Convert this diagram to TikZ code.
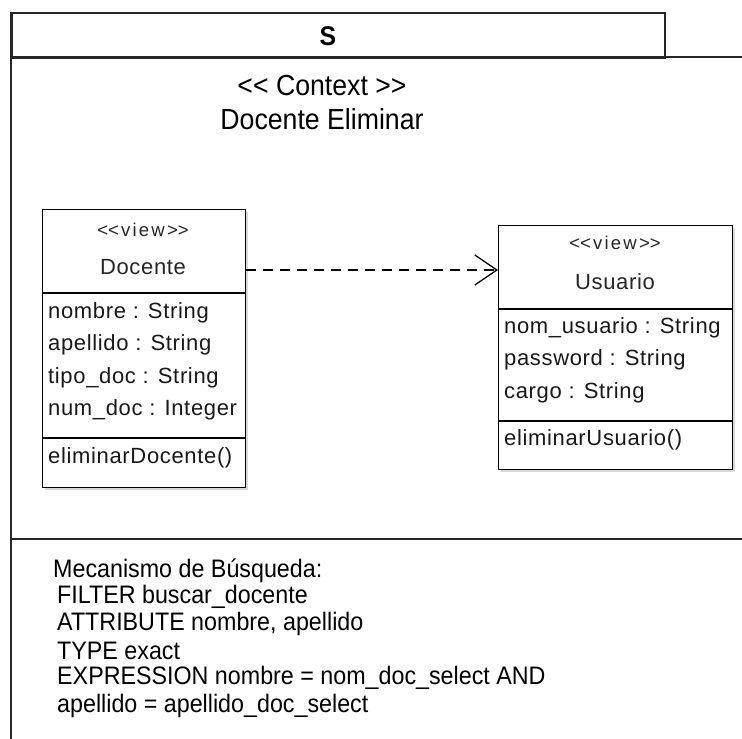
\documentclass[tikz,border=0pt]{standalone}
\usepackage{fontspec}
\setmainfont{Liberation Sans}
\newfontfamily\viewfont[LetterSpace=12]{Liberation Sans}
\newfontfamily\memberfont[LetterSpace=3]{Liberation Sans}
\newfontfamily\tallfont[FakeStretch=0.92]{Liberation Sans}
\usetikzlibrary{arrows.meta,shadows}

\tikzset{
  frameline/.style={draw=black!85, line width=1.6pt},
  clsbox/.style={draw=black, line width=1.3pt, fill=white, inner sep=0pt,
    anchor=north west,
    drop shadow={shadow xshift=2.5pt, shadow yshift=-2.5pt, opacity=0.3}},
  sepline/.style={draw=black, line width=1.3pt},
  stereo/.style={inner sep=0pt, font=\viewfont\fontsize{18.5}{21}\selectfont, text=black!85},
  clsname/.style={inner sep=0pt, font=\memberfont\fontsize{22}{26}\selectfont, text=black!85},
  member/.style={inner sep=0pt, anchor=west, font=\memberfont\fontsize{22}{26}\selectfont, text=black!90},
  ctxtext/.style={inner sep=0pt, font=\tallfont\fontsize{29}{32}\selectfont},
  mechtext/.style={inner sep=0pt, anchor=west, font=\tallfont\fontsize{25.3}{28}\selectfont},
  dep/.style={draw=black, line width=1.3pt, dash pattern=on 10pt off 7pt,
    -{Straight Barb[length=22pt, width=30pt, line width=1.3pt]}}
}

\begin{document}
\begin{tikzpicture}[x=1pt, y=-1pt]
  \useasboundingbox (0,0) rectangle (742,739);

  % package frame
  \node[frameline, draw, minimum width=653pt, minimum height=45pt, inner sep=0pt,
        anchor=north west] (titlebox) at (11,12) {};
  \node[inner sep=0pt, font=\tallfont\bfseries\fontsize{27}{30}\selectfont] (stitle) at (328,36) {S};
  \draw[frameline] (11,12) -- (11,739);
  \draw[frameline] (11,57) -- (742,57);
  \draw[frameline] (11,539) -- (742,539);

  % context heading
  \node[ctxtext] (ctx1) at (322,86) {<\kern0pt< Context >\kern0pt>};
  \node[ctxtext] (ctx2) at (322,119) {Docente Eliminar};

  % class Docente
  \node[clsbox, minimum width=203pt, minimum height=278pt] (doc) at (42,209) {};
  \draw[sepline] (doc.west |- 0,293) -- (doc.east |- 0,293);
  \draw[sepline] (doc.west |- 0,438) -- (doc.east |- 0,438);
  \node[stereo] (docst) at (143,230) {<\kern0pt<view>\kern0pt>};
  \node[clsname] (docname) at (143,267) {Docente};
  \node[member] (doca1) at (48,313) {nombre : String};
  \node[member] (doca2) at (48,345) {apellido : String};
  \node[member] (doca3) at (48,378) {tipo\_doc : String};
  \node[member] (doca4) at (48,410) {num\_doc : Integer};
  \node[member] (docm1) at (48,458) {eliminarDocente()};

  % class Usuario
  \node[clsbox, minimum width=234pt, minimum height=244pt] (usr) at (498,225) {};
  \draw[sepline] (usr.west |- 0,309) -- (usr.east |- 0,309);
  \draw[sepline] (usr.west |- 0,421) -- (usr.east |- 0,421);
  \node[stereo] (usrst) at (615,243) {<\kern0pt<view>\kern0pt>};
  \node[clsname] (usrname) at (615,282) {Usuario};
  \node[member] (usra1) at (504,328) {nom\_usuario : String};
  \node[member] (usra2) at (504,360) {password : String};
  \node[member] (usra3) at (504,393) {cargo : String};
  \node[member] (usrm1) at (504,440) {eliminarUsuario()};

  % dependency
  \coordinate (depstart) at (doc.east |- 0,270);
  \draw[dep] (depstart) -- (depstart -| usr.west);

  % search mechanism note
  \node[mechtext] (mech1) at (53,571) {Mecanismo de Búsqueda:};
  \node[mechtext] (mech2) at (57,597) {FILTER buscar\_docente};
  \node[mechtext] (mech3) at (57,624) {ATTRIBUTE nombre, apellido};
  \node[mechtext] (mech4) at (57,651) {TYPE exact};
  \node[mechtext] (mech5) at (57,678) {EXPRESSION nombre = nom\_doc\_select AND};
  \node[mechtext] (mech6) at (57,706) {apellido = apellido\_doc\_select};
\end{tikzpicture}
\end{document}
